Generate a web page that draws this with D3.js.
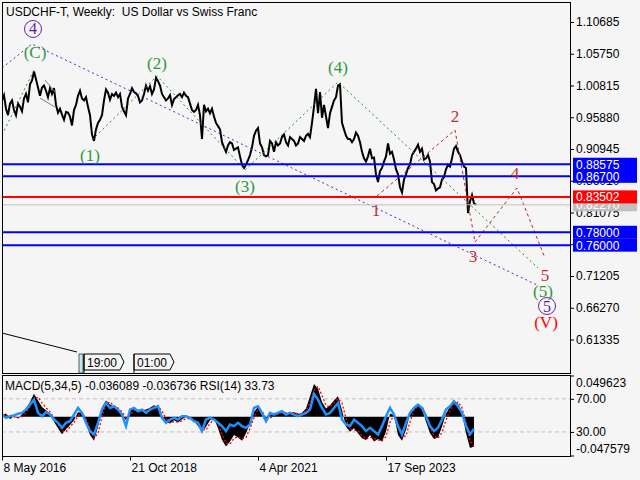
<!DOCTYPE html>
<html>
<head>
<meta charset="utf-8">
<script src="https://cdn.jsdelivr.net/npm/d3@7"></script>
<style>
  body { margin: 0; background: #f5f5f5; }
  svg { display: block; font-family: "Liberation Sans", Arial, sans-serif; font-size: 12px; }
  .pre { white-space: pre; }
</style>
</head>
<body>
<div id="chart"></div>
<script>
// weekly chart, closes sampled every 2 weeks from 8 May 2016
const closes = [
  0.985,0.993,0.972,0.962,0.980,0.985,0.970,0.962,0.980,0.975,
  0.968,0.988,0.995,0.982,1.010,1.016,1.030,1.018,1.005,0.992,
  1.005,1.008,1.000,0.990,1.004,0.995,1.004,0.978,0.966,0.972,
  0.963,0.955,0.967,0.966,0.960,0.946,0.970,0.978,0.992,1.000,
  0.988,0.985,0.990,0.975,0.962,0.932,0.922,0.940,0.950,0.955,
  0.962,0.985,1.002,0.997,0.986,0.995,0.992,0.997,0.990,0.995,
  0.975,0.968,0.962,0.988,0.995,1.004,0.998,0.996,0.992,0.982,
  0.985,0.995,1.008,1.000,1.007,0.995,1.002,1.020,1.015,1.008,
  0.995,0.990,0.985,0.988,0.993,0.978,0.987,0.990,0.993,0.995,
  0.990,0.997,0.992,0.990,0.980,0.970,0.967,0.970,0.978,0.962,
  0.925,0.978,0.968,0.972,0.965,0.972,0.960,0.950,0.945,0.940,
  0.920,0.912,0.905,0.915,0.920,0.918,0.908,0.910,0.912,0.898,
  0.885,0.880,0.885,0.892,0.900,0.912,0.930,0.938,0.942,0.918,
  0.912,0.900,0.898,0.900,0.922,0.918,0.905,0.920,0.915,0.918,
  0.928,0.932,0.920,0.915,0.928,0.925,0.922,0.915,0.918,0.928,
  0.925,0.922,0.930,0.933,0.928,0.950,0.975,1.003,0.965,0.998,
  0.958,0.978,0.960,0.942,0.965,0.975,0.985,0.990,1.008,1.010,
  0.950,0.940,0.930,0.925,0.925,0.920,0.925,0.935,0.930,0.920,
  0.905,0.895,0.890,0.898,0.910,0.895,0.896,0.870,0.858,0.875,
  0.880,0.890,0.898,0.918,0.902,0.905,0.893,0.878,0.870,0.850,
  0.842,0.862,0.870,0.880,0.885,0.900,0.905,0.910,0.916,0.905,
  0.910,0.893,0.895,0.900,0.890,0.858,0.855,0.845,0.848,0.850,
  0.862,0.866,0.878,0.885,0.882,0.895,0.910,0.914,0.905,0.900,
  0.890,0.882,0.880,0.810,0.828,0.838,0.825,0.8227
];

// indicators sampled every 4 weeks
const macdMain = [
  0.002,0.004,-0.003,0.001,-0.002,0.003,0.010,0.018,0.028,0.020,
  0.012,0.008,0.004,-0.006,-0.014,-0.021,-0.015,-0.010,-0.004,0.006,
  0.004,-0.008,-0.022,-0.029,-0.012,0.012,0.020,0.015,0.012,0.010,
  0.002,-0.004,0.008,0.010,0.006,0.008,0.009,0.011,0.014,0.012,
  0.002,-0.006,-0.008,-0.004,-0.007,-0.003,0.000,-0.003,-0.005,-0.011,
  -0.019,-0.012,-0.004,-0.002,-0.014,-0.028,-0.036,-0.030,-0.022,-0.025,
  -0.029,-0.020,-0.008,0.006,0.012,0.002,-0.006,0.002,0.005,0.004,
  0.006,0.005,0.004,0.006,0.003,0.005,0.010,0.025,0.040,0.034,
  0.018,0.010,0.014,0.020,0.025,0.008,-0.012,-0.018,-0.014,-0.020,
  -0.026,-0.028,-0.022,-0.030,-0.027,-0.030,-0.018,0.004,0.002,-0.022,
  -0.029,-0.016,0.004,0.012,0.015,0.010,-0.006,-0.020,-0.027,-0.025,
  -0.012,0.004,0.012,0.019,0.016,0.005,-0.020,-0.038,-0.036089
];
const macdSignal = [
  0.001,0.002,0.001,0.000,-0.001,0.000,0.005,0.012,0.021,0.024,
  0.017,0.011,0.006,-0.001,-0.009,-0.017,-0.018,-0.012,-0.007,0.001,
  0.005,-0.002,-0.014,-0.026,-0.020,0.000,0.016,0.018,0.013,0.011,
  0.006,-0.001,0.002,0.008,0.008,0.007,0.008,0.010,0.012,0.013,
  0.007,-0.002,-0.007,-0.006,-0.006,-0.005,-0.002,-0.002,-0.004,-0.008,
  -0.015,-0.016,-0.008,-0.003,-0.008,-0.021,-0.032,-0.033,-0.026,-0.024,
  -0.027,-0.025,-0.014,-0.001,0.009,0.007,-0.002,-0.002,0.003,0.004,
  0.005,0.005,0.005,0.005,0.004,0.004,0.007,0.017,0.032,0.037,
  0.026,0.014,0.012,0.017,0.022,0.017,-0.002,-0.015,-0.016,-0.017,
  -0.023,-0.027,-0.025,-0.026,-0.028,-0.029,-0.024,-0.007,0.003,-0.010,
  -0.025,-0.023,-0.006,0.008,0.013,0.013,0.002,-0.013,-0.023,-0.026,
  -0.019,-0.004,0.008,0.015,0.018,0.011,-0.007,-0.029,-0.036736
];
const rsiValues = [
  51,47,49,50,52,53,57,63,69,53,
  49,54,51,45,41,35,41,43,51,59,
  53,41,31,27,41,57,65,59,61,57,
  51,37,57,59,55,57,53,57,59,61,
  47,41,45,47,45,49,49,47,43,41,
  31,45,47,45,41,37,31,39,37,41,
  37,35,39,59,61,53,43,53,51,53,
  55,51,53,51,49,51,53,57,76,69,
  59,51,53,59,65,45,39,37,45,41,
  37,31,35,31,27,37,49,59,51,37,
  27,41,53,59,63,59,49,37,31,35,
  45,57,61,67,61,53,37,27,33.73
];

const priceTicks = [1.10685,1.05750,1.00815,0.95880,0.90945,0.86010,0.81075,0.76140,0.71205,0.66270,0.61335];
const blueLevels = [0.88575,0.86700,0.78000,0.76000];
const redLevel = 0.83502;
const bidLevel = 0.82270;
const dateTicks = ["2016-05-08","2018-10-21","2021-04-04","2023-09-17"];
const macdMax = 0.049623, macdMin = -0.047579;
const rsiLevels = [70, 30];

// wave markup, weeks after 8 May 2016 and price
const purpleWeeks = [0, 30, 535];
const purplePrices = [1.0354, 1.0727, 0.6981];
const greenLeadWeeks = [0, 32];
const greenLeadPrices = [0.9312, 1.0322];
const greenWeeks = [90, 155, 243, 336, 536];
const greenPrices = [0.9235, 1.0229, 0.8768, 1.0136, 0.7245];
const redWeeks = [375, 453, 473, 515, 543];
const redPrices = [0.8364, 0.9390, 0.7649, 0.8488, 0.7400];
const wedgeWeeks = [[43, 53], [38, 53]];
const wedgePrices = [[1.0167, 0.9980], [0.9887, 0.9747]];
const trendWeeks = [0, 75];
const trendPrices = [0.6234, 0.5939];

const greenLabels = ["(C)", "(1)", "(2)", "(3)", "(4)", "(5)"];
const greenLabelWeeks = [33, 88, 155, 243, 336, 541];
const greenLabelPrices = [1.0587, 0.8986, 1.0416, 0.8504, 1.0369, 0.6872];
const redLabels = ["1", "2", "3", "4", "5"];
const redLabelWeeks = [374, 453, 471, 513, 543];
const redLabelPrices = [0.8131, 0.9607, 0.7416, 0.8706, 0.7121];
const circleLabels = ["4", "5"];
const circleLabelWeeks = [31, 545];
const circleLabelPrices = [1.0960, 0.6654];
const romanLabel = "(V)", romanWeek = 544, romanPrice = 0.6390;
const sessionLabels = ["19:00", "01:00"];
const sessionWeeks = [82, 132];

const W = 640, H = 480;
const left = 2, right = 570, topY = 2, mainBottom = 373, subTop = 375, subBottom = 456;
const start = new Date(2016, 4, 8);
const wk = w => d3.timeWeek.offset(start, w);

const svg = d3.select("#chart").append("svg").attr("width", W).attr("height", H);
svg.append("rect").attr("width", W).attr("height", H).attr("fill", "#f5f5f5");

const x = d3.scaleTime().domain([start, wk(right - left)]).range([left, right]);
const y = d3.scaleLinear().domain([0.56128, 1.13794]).range([mainBottom, topY]);
const yMacd = d3.scaleLinear().domain([macdMin, macdMax]).range([subBottom, subTop + 1]);
const yRsi = d3.scaleLinear().domain([0, 100]).range([456.75, 374]);

const defs = svg.append("defs");
defs.append("clipPath").attr("id", "clipMain").append("rect")
  .attr("x", left).attr("y", topY).attr("width", right - left).attr("height", mainBottom - topY);
defs.append("clipPath").attr("id", "clipSub").append("rect")
  .attr("x", left).attr("y", subTop).attr("width", right - left).attr("height", subBottom - subTop);

// price axis
const yAxis = svg.append("g")
  .attr("transform", `translate(${right},0)`)
  .call(d3.axisRight(y).tickValues(priceTicks).tickSize(4).tickPadding(2).tickFormat(d3.format(".5f")));
yAxis.select(".domain").remove();
yAxis.attr("font-size", 12).attr("font-family", null);

const main = svg.append("g").attr("clip-path", "url(#clipMain)");

// price
const priceLine = d3.line()
  .x((d, i) => x(d3.timeDay.offset(start, 14 * i)))
  .y(d => y(d));
main.append("path")
  .datum(closes)
  .attr("d", priceLine)
  .attr("fill", "none")
  .attr("stroke", "#000")
  .attr("stroke-width", 2)
  .attr("stroke-linejoin", "miter");

// wave lines
const waveLine = d3.line().x(d => x(wk(d[0]))).y(d => y(d[1]));
function drawWave(weeks, prices, color, dash, width) {
  main.append("path")
    .datum(d3.zip(weeks, prices))
    .attr("d", waveLine)
    .attr("fill", "none")
    .attr("stroke", color)
    .attr("stroke-width", width || 1)
    .attr("stroke-dasharray", dash);
}
drawWave(purpleWeeks, purplePrices, "#6a1fb0", "2,3");
drawWave(greenLeadWeeks, greenLeadPrices, "#2a8a2a", "2,3");
drawWave(greenWeeks, greenPrices, "#2a8a2a", "2,3");
drawWave(redWeeks, redPrices, "#a52a2a", "3,3");
wedgeWeeks.forEach((w, i) => drawWave(w, wedgePrices[i], "#808080", null));
drawWave(trendWeeks, trendPrices, "#000", null);

// levels
main.selectAll(".blue").data(blueLevels).enter().append("line")
  .attr("x1", left).attr("x2", right)
  .attr("y1", d => y(d)).attr("y2", d => y(d))
  .attr("stroke", "#0000ff").attr("stroke-width", 2);
main.append("line")
  .attr("x1", left).attr("x2", right).attr("y1", y(bidLevel)).attr("y2", y(bidLevel))
  .attr("stroke", "#c0c0c0").attr("stroke-width", 1);
main.append("line")
  .attr("x1", left).attr("x2", right).attr("y1", y(redLevel)).attr("y2", y(redLevel))
  .attr("stroke", "#ff0000").attr("stroke-width", 2);

// wave labels
const serif = "'Liberation Serif', 'Times New Roman', serif";
function label(txt, w, p, color, size) {
  main.append("text")
    .attr("x", x(wk(w))).attr("y", y(p))
    .attr("text-anchor", "middle").attr("dominant-baseline", "central")
    .attr("font-family", serif).attr("font-size", size || 17)
    .attr("fill", color).text(txt);
}
greenLabels.forEach((t, i) => label(t, greenLabelWeeks[i], greenLabelPrices[i], "#2e9a3a"));
redLabels.forEach((t, i) => label(t, redLabelWeeks[i], redLabelPrices[i], "#b8312f"));
label(romanLabel, romanWeek, romanPrice, "#ff0000");
circleLabels.forEach((t, i) => {
  main.append("circle")
    .attr("cx", x(wk(circleLabelWeeks[i]))).attr("cy", y(circleLabelPrices[i]))
    .attr("r", 8.5).attr("fill", "none").attr("stroke", "#6a1fb0").attr("stroke-width", 1);
  label(t, circleLabelWeeks[i], circleLabelPrices[i], "#5a1fa0", 16);
});

// session tags at the bottom of the price window
sessionWeeks.forEach((w, i) => {
  const sx = x(wk(w));
  const bw = 36, by = 354, bh = 16;
  main.append("path")
    .attr("d", `M${sx},${by}H${sx + bw}L${sx + bw + 4},${by + bh / 2}L${sx + bw},${by + bh}H${sx}Z`)
    .attr("fill", "#f5f5f5").attr("stroke", "#000").attr("stroke-width", 1);
  main.append("line")
    .attr("x1", sx).attr("x2", sx).attr("y1", by).attr("y2", mainBottom)
    .attr("stroke", "#000");
  main.append("text").attr("x", sx + 3).attr("y", by + 12.5).text(sessionLabels[i]);
});
main.append("rect")
  .attr("x", x(wk(sessionWeeks[0])) - 5).attr("y", 354).attr("width", 4).attr("height", 19)
  .attr("fill", "#bfe9ef").attr("stroke", "#000").attr("stroke-width", 0.6);

// level boxes on the price scale
function levelBox(v, fill) {
  svg.append("rect")
    .attr("x", right + 3).attr("y", y(v) - 6.5).attr("width", 64).attr("height", 13)
    .attr("fill", fill);
  svg.append("text")
    .attr("x", right + 6).attr("y", y(v) + 4.5)
    .attr("fill", "#fff").text(d3.format(".5f")(v));
}
levelBox(bidLevel, "#c0c0c0");
blueLevels.forEach(v => levelBox(v, "#0000ff"));
levelBox(redLevel, "#ff0000");

// title
svg.append("text").attr("class", "pre").attr("x", 6).attr("y", 16)
  .text("USDCHF-T, Weekly:  US Dollar vs Swiss Franc");

// indicator window
const sub = svg.append("g").attr("clip-path", "url(#clipSub)");
const subDate = (d, i) => x(d3.timeDay.offset(start, 28 * i));

sub.selectAll(".lvl").data(rsiLevels).enter().append("line")
  .attr("x1", left).attr("x2", right)
  .attr("y1", d => yRsi(d)).attr("y2", d => yRsi(d))
  .attr("stroke", "#c0c0c0").attr("stroke-dasharray", "4,3");

sub.append("path")
  .datum(macdMain)
  .attr("d", d3.area().x(subDate).y0(yMacd(0)).y1(d => yMacd(d)))
  .attr("fill", "#000");
sub.append("path")
  .datum(macdSignal)
  .attr("d", d3.line().x(subDate).y(d => yMacd(d)))
  .attr("fill", "none").attr("stroke", "#ff0000").attr("stroke-width", 1.3)
  .attr("stroke-dasharray", "2,2");
sub.append("path")
  .datum(rsiValues)
  .attr("d", d3.line().x(subDate).y(d => yRsi(d)))
  .attr("fill", "none").attr("stroke", "#1e90ff").attr("stroke-width", 2.5);

svg.append("text").attr("x", 5).attr("y", 390)
  .text(`MACD(5,34,5) ${macdMain[macdMain.length - 1]} ${macdSignal[macdSignal.length - 1]} RSI(14) ${rsiValues[rsiValues.length - 1].toFixed(2)}`);

const rsiAxis = svg.append("g")
  .attr("transform", `translate(${right},0)`)
  .call(d3.axisRight(yRsi).tickValues(rsiLevels).tickSize(4).tickPadding(2).tickFormat(d3.format(".2f")));
rsiAxis.select(".domain").remove();
rsiAxis.attr("font-size", 12).attr("font-family", null);

[[macdMax, subTop + 1, 11], [macdMin, subBottom, -3]].forEach(([v, ty, dy]) => {
  svg.append("line").attr("x1", right).attr("x2", right + 4).attr("y1", ty).attr("y2", ty).attr("stroke", "#000");
  svg.append("text").attr("x", right + 6).attr("y", ty + dy).text(v);
});

// frames
svg.append("rect").attr("x", left + 0.5).attr("y", topY + 0.5)
  .attr("width", right - left).attr("height", mainBottom - topY)
  .attr("fill", "none").attr("stroke", "#000");
svg.append("rect").attr("x", left + 0.5).attr("y", subTop + 0.5)
  .attr("width", right - left).attr("height", subBottom - subTop)
  .attr("fill", "none").attr("stroke", "#000");

// time axis
const xAxis = svg.append("g")
  .attr("transform", `translate(0,${subBottom + 0.5})`)
  .call(d3.axisBottom(x).tickValues(dateTicks.map(d => d3.timeParse("%Y-%m-%d")(d)))
    .tickSize(4).tickPadding(3).tickFormat(d3.timeFormat("%-d %b %Y")));
xAxis.select(".domain").remove();
xAxis.attr("font-size", 12).attr("font-family", null);
xAxis.selectAll("text").attr("text-anchor", "start").attr("x", 1);
</script>
</body>
</html>
